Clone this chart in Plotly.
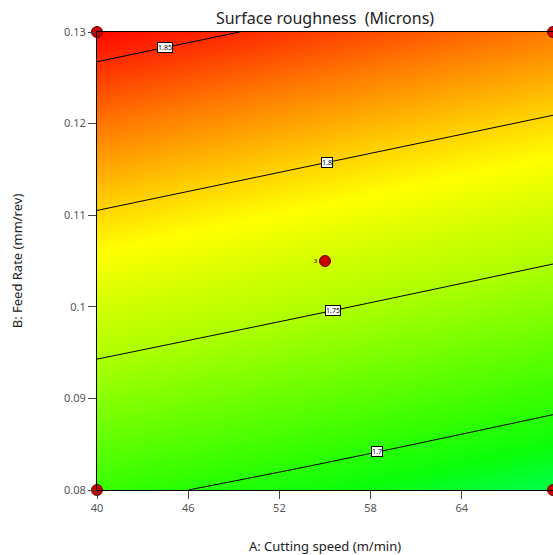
import numpy as np
import plotly.graph_objects as go

# Data
cutting_speed = [40, 55, 70]          # A (m/min)
feed_rate = [0.08, 0.105, 0.13]       # B (mm/rev)
roughness = [                          # rows: feed rate, cols: cutting speed
    [1.706, 1.691, 1.675],
    [1.783, 1.767, 1.751],
    [1.860, 1.844, 1.828],
]
contour_levels = [1.70, 1.75, 1.80, 1.85]
label_speed = [58.4, 55.5, 55.1, 44.5]   # where each contour label sits along A

design_A = [40, 40, 70, 70, 55]
design_B = [0.08, 0.13, 0.08, 0.13, 0.105]
design_text = ["", "", "", "", "3"]

x_ticks = [40, 46, 52, 58, 64, 70]
y_ticks = [0.08, 0.09, 0.10, 0.11, 0.12, 0.13]
y_tick_text = ["0.08", "0.09", "0.1", "0.11", "0.12", "0.13"]

z = np.array(roughness)
zmin, zmax = z.min(), z.max()

colorscale = [
    [0.00, "rgb(0,255,75)"],
    [0.08, "rgb(10,255,10)"],
    [0.17, "rgb(55,255,0)"],
    [0.30, "rgb(120,255,0)"],
    [0.41, "rgb(175,255,0)"],
    [0.50, "rgb(210,255,0)"],
    [0.60, "rgb(255,255,0)"],
    [0.69, "rgb(255,205,0)"],
    [0.83, "rgb(255,120,0)"],
    [0.95, "rgb(255,40,0)"],
    [1.00, "rgb(255,10,0)"],
]

fig = go.Figure()
fig.add_trace(go.Contour(
    x=cutting_speed, y=feed_rate, z=roughness,
    colorscale=colorscale, zmin=zmin, zmax=zmax,
    contours=dict(coloring="heatmap", start=1.70, end=1.85, size=0.05, showlines=True),
    line=dict(color="black", width=1),
    showscale=False, hoverinfo="skip",
))

fig.add_trace(go.Scatter(
    x=design_A, y=design_B, mode="markers+text",
    text=design_text, textposition="middle left",
    textfont=dict(size=6, color="black"),
    marker=dict(size=11, color="rgb(200,0,0)", line=dict(color="rgb(110,0,0)", width=1)),
    cliponaxis=False, showlegend=False, hoverinfo="skip",
))

# contour labels
for lvl, a in zip(contour_levels, label_speed):
    col = np.array([np.interp(a, cutting_speed, row) for row in roughness])
    b = float(np.interp(lvl, col, feed_rate))
    fig.add_annotation(
        x=a, y=b, text=f"{lvl:g}", showarrow=False,
        font=dict(size=7, color="black", family="Noto Sans"),
        bgcolor="white", bordercolor="black", borderwidth=1, borderpad=0,
    )

fig.update_layout(
    width=553, height=555,
    margin=dict(l=97, r=0, t=32, b=65),
    paper_bgcolor="white", plot_bgcolor="white",
    font=dict(family="Noto Sans", color="#333"),
    title=dict(text="Surface roughness\u00a0\u00a0(Microns)", x=(97 + 553) / 2 / 553, xanchor="center",
               y=1 - 18 / 555, yanchor="middle", font=dict(size=16, color="#222")),
    showlegend=False,
)
fig.update_xaxes(
    range=[40, 70], tickvals=x_ticks, ticks="outside", ticklen=8, tickcolor="#444",
    showline=True, linecolor="black", linewidth=1, mirror=True, showgrid=False, zeroline=False,
    tickfont=dict(size=11, color="#555"),
    title=dict(text="A: Cutting speed (m/min)", font=dict(size=13, color="#222"), standoff=27),
)
fig.update_yaxes(
    range=[0.08, 0.13], tickvals=y_ticks, ticktext=y_tick_text,
    ticks="outside", ticklen=8, tickcolor="#444",
    showline=True, linecolor="black", linewidth=1, mirror=True, showgrid=False, zeroline=False,
    tickfont=dict(size=11, color="#555"),
    title=dict(text="B: Feed Rate (mm/rev)", font=dict(size=13, color="#222"), standoff=38),
)

fig.write_html(
    "out.html",
    config={"displayModeBar": False},
    post_script="document.body.style.margin='0';document.body.style.overflow='hidden';",
)
